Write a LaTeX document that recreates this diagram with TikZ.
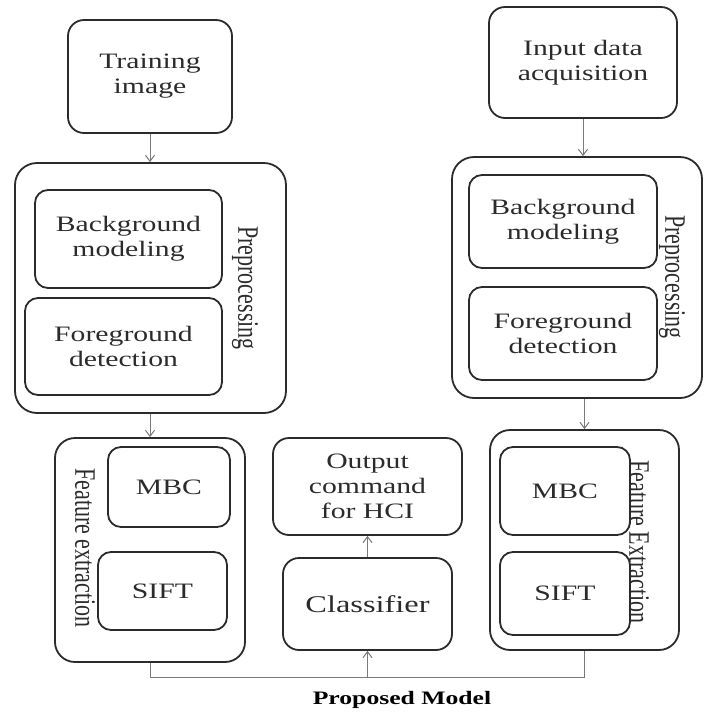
\documentclass[tikz,border=0pt]{standalone}
\usepackage{fontspec}
\usepackage{graphicx}
\setmainfont{Liberation Serif}[FakeStretch=1.35]
\newfontfamily\vertfont{Liberation Serif}
\usetikzlibrary{arrows.meta}

\definecolor{inkgray}{HTML}{2B2B2B}
\definecolor{wiregray}{HTML}{7A7A7A}

\tikzset{
	block/.style = {draw = inkgray, line width = 1.8pt, rounded corners = 16pt, inner sep = 0pt, align = center, text = inkgray, font = \fontsize{22}{25}\selectfont},
	subblock/.style = {block, rounded corners = 13pt},
	sidelabel/.style = {inner sep = 0pt, text = inkgray, font = \fontsize{22}{25}\selectfont},
	wire/.style = {draw = wiregray, line width = 1pt},
	conn/.style = {wire, -{Straight Barb[length = 6pt, width = 9pt]}}
}

\newcommand{\vlabel}[1]{\scalebox{1.35}[1]{\rotatebox{-90}{\vertfont #1}}}

\begin{document}
\begin{tikzpicture}[x = 1pt, y = -1pt]

\useasboundingbox (0, 0) rectangle (704, 713);

\node[block, minimum width = 164pt, minimum height = 113pt] (train) at (150, 76.5) {Training\\image};
\node[block, rounded corners = 22pt, minimum width = 271pt, minimum height = 250pt] (prepL) at (150.5, 288) {};
\node[subblock, minimum width = 187pt, minimum height = 98pt] (bgL) at (128.5, 239) {Background\\modeling};
\node[subblock, minimum width = 197pt, minimum height = 97pt] (fgL) at (123.5, 346.5) {Foreground\\detection};
\node[sidelabel] (prepLlab) at (245, 288) {\vlabel{Preprocessing}};

\node[block, rounded corners = 20pt, minimum width = 190pt, minimum height = 224pt] (featL) at (150, 550) {};
\node[subblock, minimum width = 122pt, minimum height = 80pt] (mbcL) at (169, 487) {MBC};
\node[subblock, minimum width = 129pt, minimum height = 78pt] (siftL) at (162.5, 591) {SIFT};
\node[sidelabel] (featLlab) at (85, 548) {\vlabel{Feature extraction}};

\node[block, minimum width = 189pt, minimum height = 97pt] (out) at (367.5, 486.5) {Output\\command\\for HCI};
\node[block, minimum width = 169pt, minimum height = 92pt, font = \fontsize{24}{27}\selectfont] (cls) at (367.5, 604) {Classifier};

\node[block, minimum width = 188pt, minimum height = 111pt] (input) at (583, 62.5) {Input data\\acquisition};
\node[block, rounded corners = 22pt, minimum width = 250pt, minimum height = 241pt] (prepR) at (577, 277.5) {};
\node[subblock, minimum width = 188pt, minimum height = 93pt] (bgR) at (563, 221.5) {Background\\modeling};
\node[subblock, minimum width = 188pt, minimum height = 93pt] (fgR) at (563, 333.5) {Foreground\\detection};
\node[sidelabel] (prepRlab) at (672, 277) {\vlabel{Preprocessing}};

\node[block, rounded corners = 20pt, minimum width = 189pt, minimum height = 220pt] (featR) at (584.5, 540) {};
\node[subblock, minimum width = 130pt, minimum height = 88pt] (mbcR) at (565, 491) {MBC};
\node[subblock, minimum width = 130pt, minimum height = 83pt] (siftR) at (565, 593.5) {SIFT};
\node[sidelabel] (featRlab) at (639, 542) {\vlabel{Feature Extraction}};

\draw[conn] (train.south) -- (train.south |- prepL.north);
\draw[conn] (prepL.south -| featL.north) -- (featL.north);
\draw[conn] (input.south) -- (input.south |- prepR.north);
\draw[conn] (prepR.south -| featR.north) -- (featR.north);

\coordinate (busL) at (150, 677);
\coordinate (busR) at (584.5, 677);
\coordinate (busM) at (cls.south |- busL);

\draw[wire] (featL.south) -- (busL) -- (busR) -- (featR.south);
\draw[conn] (busM) -- (cls.south);
\draw[conn] (cls.north) -- (out.south);

\node[text = black, font = \fontsize{19}{22}\selectfont\bfseries] (title) at (402, 700) {Proposed Model};

\end{tikzpicture}
\end{document}
